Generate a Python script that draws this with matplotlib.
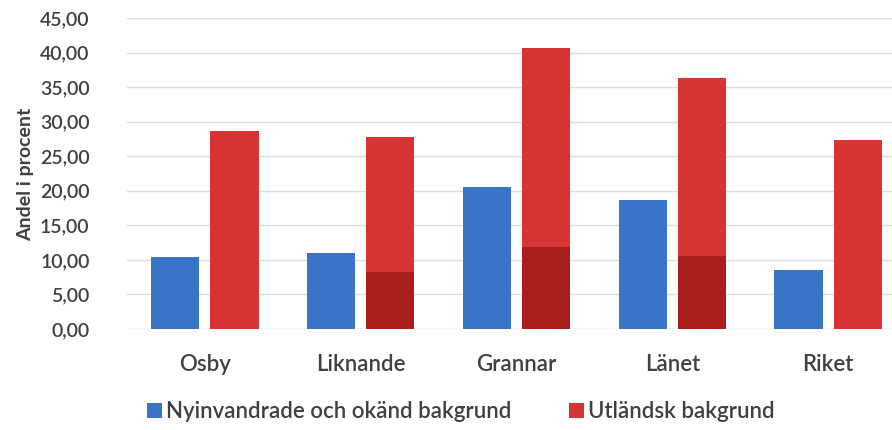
import numpy as np
import matplotlib.pyplot as plt

plt.rcParams['font.family'] = ['Lato', 'DejaVu Sans']

omraden = ['Osby', 'Liknande', 'Grannar', 'Länet', 'Riket']
nyinvandrade = [10.4, 11.0, 20.6, 18.7, 8.5]
utlandsk = [28.7, 27.8, 40.7, 36.3, 27.4]
utlandsk_nedre = [0.0, 8.2, 11.9, 10.5, 0.0]   # mörkare del i botten av stapeln

blue = '#3b74c6'
red = '#d63534'
darkred = '#a91d1a'
textcol = '#404040'

fig = plt.figure(figsize=(8.92, 4.30), dpi=100)
ax = fig.add_axes([127 / 892, 1 - 329 / 430, 779 / 892, 311 / 430])

x = np.arange(len(omraden))
w = 0.31
ax.bar(x - 0.19, nyinvandrade, w, color=blue, zorder=3,
       label='Nyinvandrade och okänd bakgrund')
ax.bar(x + 0.19, utlandsk, w, color=red, zorder=3, label='Utländsk bakgrund')
ax.bar(x + 0.19, utlandsk_nedre, w, color=darkred, zorder=3)

ax.set_xlim(-0.5, 4.5)
ax.set_ylim(0, 45)
ticks = np.arange(0, 46, 5)
ax.set_yticks(ticks)
ax.set_yticklabels([f'{v:.2f}'.replace('.', ',') for v in ticks],
                   fontsize=14, color=textcol, fontweight='semibold')
ax.set_xticks(x)
ax.set_xticklabels(omraden, fontsize=16, color=textcol, fontweight='semibold')
ax.tick_params(axis='y', length=0, pad=27)
ax.tick_params(axis='x', length=0, pad=18)
ax.grid(axis='y', color='#dcdcdc', linewidth=1, zorder=0)
for s in ax.spines.values():
    s.set_visible(False)

fig.text(26 / 892, 1 - 174 / 430, 'Andel i procent', rotation=90, fontsize=14,
         fontweight='bold', color=textcol, ha='center', va='center')

leg = ax.legend(loc='center', bbox_to_anchor=(461 / 892, 1 - 412 / 430),
                bbox_transform=fig.transFigure, ncol=2, frameon=False,
                prop={'size': 16, 'weight': 'semibold'},
                handlelength=0.65, handleheight=0.65,
                handletextpad=0.2, columnspacing=2.6, labelcolor=textcol)

fig.savefig('out.png', dpi=100)
